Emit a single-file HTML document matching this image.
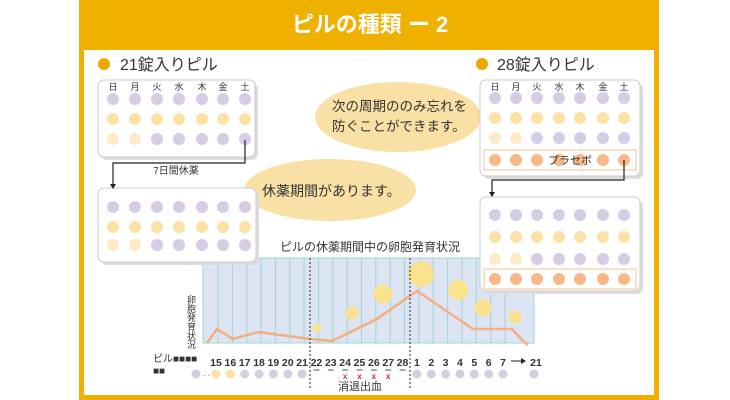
<!DOCTYPE html>
<html><head><meta charset="utf-8"><style>
html,body{margin:0;padding:0;background:#fff}
svg{display:block}
text{font-family:"Liberation Sans","Noto Sans CJK JP",sans-serif}
</style></head><body>
<svg id="s" width="730" height="400" viewBox="0 0 730 400" xmlns="http://www.w3.org/2000/svg">
<rect x="79" y="0" width="580" height="400" fill="#f0b000"/>
<rect x="84" y="50" width="570" height="345" fill="#fff"/>
<text x="370" y="32" font-size="22" font-weight="bold" fill="#fff" text-anchor="middle">ピルの種類 ー 2</text>

<circle cx="104" cy="64" r="6" fill="#f0a800"/>
<text x="120" y="70" font-size="16" fill="#333">21錠入りピル</text>
<circle cx="482" cy="64" r="6" fill="#f0a800"/>
<text x="497" y="70" font-size="16" fill="#333">28錠入りピル</text>

<ellipse cx="398" cy="117" rx="83" ry="35" fill="#f9e1a6"/>
<text x="332" y="111" font-size="13.5" fill="#333">次の周期ののみ忘れを</text>
<text x="332" y="131" font-size="13.5" fill="#333">防ぐことができます。</text>
<ellipse cx="330" cy="190" rx="86" ry="31" fill="#f9e1a6"/>
<text x="262" y="196" font-size="14" fill="#333">休薬期間があります。</text>

<text x="370" y="251" font-size="12" fill="#333" text-anchor="middle">ピルの休薬期間中の卵胞発育状況</text>
<rect x="203" y="258" width="331" height="85" fill="#dde4f3" stroke="#9cd7cc"/>
<g id="vl"></g>
<polyline points="207,343 217,329 233,339 258,332 310,339 332,341 377,319 417,291 473,329 512,329 523,341 528,345" fill="none" stroke="#f4ae80" stroke-width="2.5"/>
<g fill="#fbe28f">
<circle cx="317" cy="328" r="4.5"/><circle cx="352" cy="313" r="6.5"/><circle cx="383" cy="294" r="9.5"/>
<circle cx="421" cy="274" r="13"/><circle cx="458" cy="290" r="10"/><circle cx="483" cy="308" r="8.5"/><circle cx="515" cy="317" r="6.5"/>
</g>
<line x1="310" y1="258" x2="310" y2="390" stroke="#222" stroke-dasharray="2,2"/>
<line x1="410" y1="258" x2="410" y2="390" stroke="#222" stroke-dasharray="2,2"/>
<text font-size="9" fill="#333"><tspan x="187" y="303">卵</tspan><tspan x="187" y="312">胞</tspan><tspan x="187" y="321">発</tspan><tspan x="187" y="330">育</tspan><tspan x="187" y="339">状</tspan><tspan x="187" y="348">況</tspan></text>
<text x="153" y="362" font-size="10" fill="#333">ピル■■■■</text>
<text x="153" y="374" font-size="10" fill="#333">■■</text>
<g id="lab"></g>
<text x="360" y="390" font-size="11" fill="#333" text-anchor="middle">消退出血</text>

<g id="boxes"></g>
<path d="M245 140 V163 H113 V185" fill="none" stroke="#222" stroke-width="1.2"/>
<path d="M110 184 L116 184 L113 189Z" fill="#222"/>
<text x="176" y="174" font-size="10" fill="#333" text-anchor="middle">7日間休薬</text>
<path d="M624 160 V180 H492 V193" fill="none" stroke="#222" stroke-width="1.2"/>
<path d="M489 192 L495 192 L492 197Z" fill="#222"/>
</svg>
<script>
var NS="http://www.w3.org/2000/svg";
function el(p,t,a,txt){var e=document.createElementNS(NS,t);for(var k in a)e.setAttribute(k,a[k]);if(txt)e.textContent=txt;document.getElementById(p).appendChild(e);return e;}
var P="#d6cde5",Y="#fde2a6",Y2="#fdebc7",O="#f8b888";
function box(x,y,w,h,days,xs,rows,ry,plac){
 el("boxes","rect",{x:x+3,y:y+3,width:w,height:h,rx:6,fill:"#ddd"});
 el("boxes","rect",{x:x,y:y,width:w,height:h,rx:6,fill:"#fff",stroke:"#ccc"});
 var d="日月火水木金土";
 if(days)for(var i=0;i<7;i++)el("boxes","text",{x:xs[i],y:y+10,"font-size":9,fill:"#333","text-anchor":"middle"},d[i]);
 for(var r=0;r<rows.length;r++){
  if(plac&&r==3)el("boxes","rect",{x:x+4,y:ry[r]-10,width:w-8,height:20,fill:"none",stroke:"#f4c08f"});
  for(var i=0;i<7;i++)el("boxes","circle",{cx:xs[i],cy:ry[r],r:6,fill:rows[r][i]});
 }
}
var A=[P,P,P,P,P,P,P],B=[Y,Y,Y,Y,Y,Y,Y],C=[Y2,Y2,P,P,P,P,P],D=[O,O,O,O,O,O,O];
var xl=[113,135,157,179,202,223,245];
box(98,80,157,77,true,xl,[A,B,C],[99,119,139]);
box(98,188,158,74,false,xl,[A,B,C],[207,227,245]);
var xr=[495,516,537,559,580,603,624];
box(480,80,160,96,true,xr,[A,B,C,D],[98,118,138,160],true);
el("boxes","text",{x:570,y:164,"font-size":11,fill:"#333","text-anchor":"middle"},"プラセボ");
box(480,197,160,94,false,xr,[A,B,C,D],[215,237,259,279],true);
var labs=["15","16","17","18","19","20","21","22","23","24","25","26","27","28","1","2","3","4","5","6","7"];
for(var i=0;i<21;i++){var x=216+i*14.35;
 el("vl","line",{x1:x+2,y1:258,x2:x+2,y2:343,stroke:"#9cd7cc","stroke-width":1});
 el("lab","text",{x:x,y:366,"font-size":10.5,"font-weight":"bold",fill:"#333","text-anchor":"middle"},labs[i]);
 if(i>=7&&i<14){el("lab","line",{x1:x-3,y1:370,x2:x+3,y2:370,stroke:"#555"});
  if(i>=9&&i<13)el("lab","text",{x:x,y:379,"font-size":8,"font-weight":"bold",fill:"#e22","text-anchor":"middle"},"x");}
 else{el("lab","circle",{cx:x,cy:374,r:4.5,fill:(i==0||i==1)?Y:P});}
}
el("lab","text",{x:536,y:366,"font-size":10.5,"font-weight":"bold",fill:"#333","text-anchor":"middle"},"21");
el("lab","circle",{cx:534,cy:374,r:4.5,fill:P});
el("lab","circle",{cx:196,cy:374,r:4.5,fill:P});
el("lab","text",{x:202,y:376,"font-size":8,fill:"#888"},"…");
el("lab","line",{x1:511,y1:361,x2:522,y2:361,stroke:"#222"});
el("lab","path",{d:"M521 358 L526 361 L521 364Z",fill:"#222"});
</script>
</body></html>
